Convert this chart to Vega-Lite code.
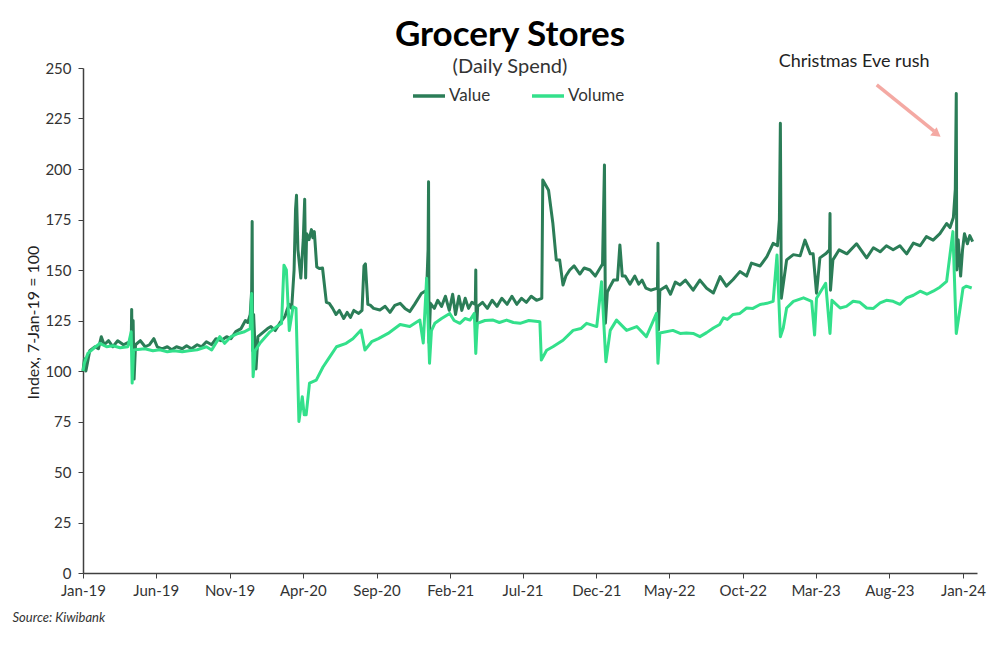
{
  "$schema": "https://vega.github.io/schema/vega-lite/v6.json",
  "width": 894,
  "height": 505,
  "autosize": {"type": "none"},
  "padding": {"left": 83, "top": 68, "right": 23, "bottom": 91},
  "background": "white",
  "config": {"view": {"stroke": null}, "font": "Lato"},
  "title": {
    "text": "Grocery Stores",
    "subtitle": "(Daily Spend)",
    "font": "Lato",
    "fontSize": 35,
    "fontWeight": "bold",
    "color": "#000000",
    "subtitleFont": "Lato",
    "subtitleFontSize": 20,
    "subtitleColor": "#333333",
    "subtitlePadding": 4,
    "anchor": "middle",
    "dx": -20,
    "offset": -24
  },
  "datasets": {
    "series": [
      {"d":"2019-01-07","s":"Value","v":100},{"d":"2019-01-10","s":"Value","v":106},{"d":"2019-01-13","s":"Value","v":100},{"d":"2019-01-21","s":"Value","v":110},{"d":"2019-02-01","s":"Value","v":112},{"d":"2019-02-08","s":"Value","v":111},{"d":"2019-02-14","s":"Value","v":117},{"d":"2019-02-20","s":"Value","v":113},{"d":"2019-03-01","s":"Value","v":115},{"d":"2019-03-10","s":"Value","v":112},{"d":"2019-03-20","s":"Value","v":115},{"d":"2019-04-01","s":"Value","v":113},{"d":"2019-04-10","s":"Value","v":114},{"d":"2019-04-17","s":"Value","v":113},{"d":"2019-04-18","s":"Value","v":130.5},{"d":"2019-04-19","s":"Value","v":112},{"d":"2019-04-21","s":"Value","v":125},{"d":"2019-04-23","s":"Value","v":96},{"d":"2019-04-26","s":"Value","v":113},{"d":"2019-05-06","s":"Value","v":115},{"d":"2019-05-16","s":"Value","v":112},{"d":"2019-05-25","s":"Value","v":113},{"d":"2019-06-03","s":"Value","v":116},{"d":"2019-06-10","s":"Value","v":112},{"d":"2019-06-20","s":"Value","v":111},{"d":"2019-07-01","s":"Value","v":112},{"d":"2019-07-10","s":"Value","v":110.5},{"d":"2019-07-20","s":"Value","v":112},{"d":"2019-08-01","s":"Value","v":111},{"d":"2019-08-10","s":"Value","v":112.5},{"d":"2019-08-20","s":"Value","v":111},{"d":"2019-09-01","s":"Value","v":113},{"d":"2019-09-10","s":"Value","v":112},{"d":"2019-09-20","s":"Value","v":114.5},{"d":"2019-10-01","s":"Value","v":113},{"d":"2019-10-10","s":"Value","v":116},{"d":"2019-10-20","s":"Value","v":115},{"d":"2019-11-01","s":"Value","v":117},{"d":"2019-11-10","s":"Value","v":116},{"d":"2019-11-20","s":"Value","v":119.5},{"d":"2019-12-01","s":"Value","v":121},{"d":"2019-12-10","s":"Value","v":125},{"d":"2019-12-15","s":"Value","v":124},{"d":"2019-12-20","s":"Value","v":128},{"d":"2019-12-23","s":"Value","v":140},{"d":"2019-12-24","s":"Value","v":174},{"d":"2019-12-25","s":"Value","v":110},{"d":"2019-12-27","s":"Value","v":128},{"d":"2020-01-01","s":"Value","v":101},{"d":"2020-01-05","s":"Value","v":117},{"d":"2020-01-15","s":"Value","v":119},{"d":"2020-01-25","s":"Value","v":121},{"d":"2020-02-01","s":"Value","v":122},{"d":"2020-02-10","s":"Value","v":120},{"d":"2020-02-20","s":"Value","v":124},{"d":"2020-03-01","s":"Value","v":127},{"d":"2020-03-05","s":"Value","v":130},{"d":"2020-03-10","s":"Value","v":133},{"d":"2020-03-15","s":"Value","v":131},{"d":"2020-03-20","s":"Value","v":150},{"d":"2020-03-23","s":"Value","v":180},{"d":"2020-03-25","s":"Value","v":187},{"d":"2020-03-28","s":"Value","v":160},{"d":"2020-04-03","s":"Value","v":146},{"d":"2020-04-08","s":"Value","v":165},{"d":"2020-04-11","s":"Value","v":185},{"d":"2020-04-13","s":"Value","v":146},{"d":"2020-04-15","s":"Value","v":168},{"d":"2020-04-20","s":"Value","v":165},{"d":"2020-04-25","s":"Value","v":170},{"d":"2020-04-28","s":"Value","v":166},{"d":"2020-05-01","s":"Value","v":169},{"d":"2020-05-06","s":"Value","v":151.5},{"d":"2020-05-12","s":"Value","v":150.7},{"d":"2020-05-18","s":"Value","v":151},{"d":"2020-05-26","s":"Value","v":134},{"d":"2020-06-01","s":"Value","v":133.5},{"d":"2020-06-08","s":"Value","v":131},{"d":"2020-06-15","s":"Value","v":128},{"d":"2020-06-22","s":"Value","v":130},{"d":"2020-07-01","s":"Value","v":126},{"d":"2020-07-08","s":"Value","v":129},{"d":"2020-07-15","s":"Value","v":126.5},{"d":"2020-07-22","s":"Value","v":130},{"d":"2020-08-01","s":"Value","v":128.5},{"d":"2020-08-08","s":"Value","v":130},{"d":"2020-08-12","s":"Value","v":152},{"d":"2020-08-15","s":"Value","v":153},{"d":"2020-08-20","s":"Value","v":133},{"d":"2020-08-25","s":"Value","v":132.6},{"d":"2020-09-01","s":"Value","v":131},{"d":"2020-09-14","s":"Value","v":130.2},{"d":"2020-09-25","s":"Value","v":132},{"d":"2020-10-05","s":"Value","v":129},{"d":"2020-10-15","s":"Value","v":132.5},{"d":"2020-10-26","s":"Value","v":133.5},{"d":"2020-11-05","s":"Value","v":131},{"d":"2020-11-15","s":"Value","v":129.4},{"d":"2020-11-25","s":"Value","v":133},{"d":"2020-12-09","s":"Value","v":138.4},{"d":"2020-12-20","s":"Value","v":140},{"d":"2020-12-23","s":"Value","v":160},{"d":"2020-12-24","s":"Value","v":193.7},{"d":"2020-12-25","s":"Value","v":114},{"d":"2020-12-28","s":"Value","v":133.5},{"d":"2021-01-05","s":"Value","v":131},{"d":"2021-01-12","s":"Value","v":135},{"d":"2021-01-20","s":"Value","v":132},{"d":"2021-01-28","s":"Value","v":137},{"d":"2021-02-05","s":"Value","v":130},{"d":"2021-02-12","s":"Value","v":138},{"d":"2021-02-18","s":"Value","v":128},{"d":"2021-02-25","s":"Value","v":137},{"d":"2021-03-03","s":"Value","v":130},{"d":"2021-03-10","s":"Value","v":136},{"d":"2021-03-17","s":"Value","v":131},{"d":"2021-03-24","s":"Value","v":134},{"d":"2021-03-31","s":"Value","v":133},{"d":"2021-04-01","s":"Value","v":150},{"d":"2021-04-02","s":"Value","v":118},{"d":"2021-04-05","s":"Value","v":132},{"d":"2021-04-15","s":"Value","v":134},{"d":"2021-04-25","s":"Value","v":131},{"d":"2021-05-05","s":"Value","v":135},{"d":"2021-05-15","s":"Value","v":132},{"d":"2021-05-25","s":"Value","v":136},{"d":"2021-06-05","s":"Value","v":133},{"d":"2021-06-15","s":"Value","v":137},{"d":"2021-06-25","s":"Value","v":133},{"d":"2021-07-05","s":"Value","v":136},{"d":"2021-07-15","s":"Value","v":134},{"d":"2021-07-25","s":"Value","v":137},{"d":"2021-08-05","s":"Value","v":135},{"d":"2021-08-16","s":"Value","v":136},{"d":"2021-08-18","s":"Value","v":194.5},{"d":"2021-08-30","s":"Value","v":189.5},{"d":"2021-09-08","s":"Value","v":173},{"d":"2021-09-15","s":"Value","v":155},{"d":"2021-09-22","s":"Value","v":155},{"d":"2021-09-29","s":"Value","v":142.6},{"d":"2021-10-05","s":"Value","v":147},{"d":"2021-10-13","s":"Value","v":150},{"d":"2021-10-22","s":"Value","v":152},{"d":"2021-11-03","s":"Value","v":148},{"d":"2021-11-12","s":"Value","v":151},{"d":"2021-11-24","s":"Value","v":150},{"d":"2021-12-05","s":"Value","v":147},{"d":"2021-12-15","s":"Value","v":151},{"d":"2021-12-20","s":"Value","v":153},{"d":"2021-12-24","s":"Value","v":202},{"d":"2021-12-26","s":"Value","v":123.7},{"d":"2021-12-30","s":"Value","v":139},{"d":"2022-01-05","s":"Value","v":142},{"d":"2022-01-12","s":"Value","v":145},{"d":"2022-01-20","s":"Value","v":145},{"d":"2022-01-25","s":"Value","v":162.4},{"d":"2022-01-30","s":"Value","v":147},{"d":"2022-02-05","s":"Value","v":147},{"d":"2022-02-15","s":"Value","v":143},{"d":"2022-02-25","s":"Value","v":147},{"d":"2022-03-05","s":"Value","v":143},{"d":"2022-03-12","s":"Value","v":145},{"d":"2022-03-20","s":"Value","v":141},{"d":"2022-03-30","s":"Value","v":140},{"d":"2022-04-13","s":"Value","v":141},{"d":"2022-04-14","s":"Value","v":163.2},{"d":"2022-04-15","s":"Value","v":120.3},{"d":"2022-04-18","s":"Value","v":140},{"d":"2022-05-01","s":"Value","v":142},{"d":"2022-05-10","s":"Value","v":138},{"d":"2022-05-20","s":"Value","v":144},{"d":"2022-05-30","s":"Value","v":142.6},{"d":"2022-06-10","s":"Value","v":145},{"d":"2022-06-26","s":"Value","v":140},{"d":"2022-07-10","s":"Value","v":145},{"d":"2022-07-24","s":"Value","v":141},{"d":"2022-08-07","s":"Value","v":138.6},{"d":"2022-08-21","s":"Value","v":146.7},{"d":"2022-09-03","s":"Value","v":142},{"d":"2022-09-17","s":"Value","v":145.3},{"d":"2022-10-01","s":"Value","v":149.2},{"d":"2022-10-15","s":"Value","v":147},{"d":"2022-10-25","s":"Value","v":153.4},{"d":"2022-11-12","s":"Value","v":152},{"d":"2022-11-26","s":"Value","v":156.6},{"d":"2022-12-09","s":"Value","v":163.2},{"d":"2022-12-18","s":"Value","v":162},{"d":"2022-12-22","s":"Value","v":175},{"d":"2022-12-24","s":"Value","v":222.6},{"d":"2022-12-26","s":"Value","v":136},{"d":"2023-01-06","s":"Value","v":155},{"d":"2023-01-20","s":"Value","v":157.6},{"d":"2023-02-03","s":"Value","v":157},{"d":"2023-02-13","s":"Value","v":164.8},{"d":"2023-02-24","s":"Value","v":158},{"d":"2023-03-02","s":"Value","v":158},{"d":"2023-03-09","s":"Value","v":138.5},{"d":"2023-03-16","s":"Value","v":156},{"d":"2023-03-28","s":"Value","v":158},{"d":"2023-04-05","s":"Value","v":160},{"d":"2023-04-06","s":"Value","v":178},{"d":"2023-04-07","s":"Value","v":140},{"d":"2023-04-12","s":"Value","v":155},{"d":"2023-04-25","s":"Value","v":160},{"d":"2023-05-11","s":"Value","v":158},{"d":"2023-05-31","s":"Value","v":163},{"d":"2023-06-21","s":"Value","v":156},{"d":"2023-07-05","s":"Value","v":161},{"d":"2023-07-19","s":"Value","v":159},{"d":"2023-08-01","s":"Value","v":162},{"d":"2023-08-15","s":"Value","v":160},{"d":"2023-08-29","s":"Value","v":162},{"d":"2023-09-12","s":"Value","v":158},{"d":"2023-09-26","s":"Value","v":163.3},{"d":"2023-10-10","s":"Value","v":162},{"d":"2023-10-23","s":"Value","v":166.5},{"d":"2023-11-06","s":"Value","v":164.8},{"d":"2023-11-20","s":"Value","v":168},{"d":"2023-12-04","s":"Value","v":173},{"d":"2023-12-11","s":"Value","v":171},{"d":"2023-12-18","s":"Value","v":176},{"d":"2023-12-22","s":"Value","v":190},{"d":"2023-12-24","s":"Value","v":237.4},{"d":"2023-12-25","s":"Value","v":150},{"d":"2023-12-28","s":"Value","v":165},{"d":"2024-01-02","s":"Value","v":147},{"d":"2024-01-06","s":"Value","v":160},{"d":"2024-01-10","s":"Value","v":168},{"d":"2024-01-16","s":"Value","v":163},{"d":"2024-01-21","s":"Value","v":167},{"d":"2024-01-27","s":"Value","v":164},
      {"d":"2019-01-07","s":"Volume","v":100},{"d":"2019-01-10","s":"Volume","v":104},{"d":"2019-01-17","s":"Volume","v":108.7},{"d":"2019-01-28","s":"Volume","v":111},{"d":"2019-02-11","s":"Volume","v":113.7},{"d":"2019-02-25","s":"Volume","v":112},{"d":"2019-03-10","s":"Volume","v":112.5},{"d":"2019-03-25","s":"Volume","v":111.5},{"d":"2019-04-10","s":"Volume","v":112},{"d":"2019-04-17","s":"Volume","v":119.4},{"d":"2019-04-19","s":"Volume","v":94},{"d":"2019-04-22","s":"Volume","v":110.4},{"d":"2019-05-01","s":"Volume","v":110.7},{"d":"2019-05-15","s":"Volume","v":111},{"d":"2019-06-01","s":"Volume","v":110},{"d":"2019-06-15","s":"Volume","v":110.5},{"d":"2019-07-01","s":"Volume","v":109.5},{"d":"2019-07-15","s":"Volume","v":110},{"d":"2019-08-01","s":"Volume","v":109.5},{"d":"2019-08-15","s":"Volume","v":110},{"d":"2019-09-01","s":"Volume","v":110.5},{"d":"2019-09-20","s":"Volume","v":112},{"d":"2019-10-01","s":"Volume","v":110.4},{"d":"2019-10-18","s":"Volume","v":117},{"d":"2019-10-28","s":"Volume","v":113.7},{"d":"2019-11-10","s":"Volume","v":117},{"d":"2019-11-25","s":"Volume","v":118.6},{"d":"2019-12-08","s":"Volume","v":119.4},{"d":"2019-12-20","s":"Volume","v":121},{"d":"2019-12-23","s":"Volume","v":138.4},{"d":"2019-12-26","s":"Volume","v":97.2},{"d":"2019-12-30","s":"Volume","v":110},{"d":"2020-01-09","s":"Volume","v":113.7},{"d":"2020-01-30","s":"Volume","v":119.4},{"d":"2020-02-13","s":"Volume","v":122},{"d":"2020-02-23","s":"Volume","v":123.5},{"d":"2020-02-28","s":"Volume","v":152.4},{"d":"2020-03-04","s":"Volume","v":150},{"d":"2020-03-10","s":"Volume","v":120},{"d":"2020-03-18","s":"Volume","v":131.8},{"d":"2020-03-24","s":"Volume","v":131},{"d":"2020-03-30","s":"Volume","v":75},{"d":"2020-04-06","s":"Volume","v":87.3},{"d":"2020-04-10","s":"Volume","v":78.3},{"d":"2020-04-14","s":"Volume","v":78.3},{"d":"2020-04-21","s":"Volume","v":94},{"d":"2020-05-05","s":"Volume","v":95.5},{"d":"2020-05-19","s":"Volume","v":102},{"d":"2020-06-02","s":"Volume","v":107},{"d":"2020-06-16","s":"Volume","v":112},{"d":"2020-07-06","s":"Volume","v":113.7},{"d":"2020-07-20","s":"Volume","v":116},{"d":"2020-08-06","s":"Volume","v":120.3},{"d":"2020-08-14","s":"Volume","v":110.4},{"d":"2020-08-28","s":"Volume","v":114.5},{"d":"2020-09-11","s":"Volume","v":116},{"d":"2020-10-01","s":"Volume","v":118.6},{"d":"2020-10-26","s":"Volume","v":123},{"d":"2020-11-15","s":"Volume","v":122},{"d":"2020-12-06","s":"Volume","v":125.2},{"d":"2020-12-13","s":"Volume","v":113.9},{"d":"2020-12-20","s":"Volume","v":145.9},{"d":"2020-12-26","s":"Volume","v":103.8},{"d":"2020-12-30","s":"Volume","v":120},{"d":"2021-01-06","s":"Volume","v":123.6},{"d":"2021-01-20","s":"Volume","v":126},{"d":"2021-02-06","s":"Volume","v":128.5},{"d":"2021-02-15","s":"Volume","v":125},{"d":"2021-02-27","s":"Volume","v":123.6},{"d":"2021-03-10","s":"Volume","v":126},{"d":"2021-03-20","s":"Volume","v":125.2},{"d":"2021-03-29","s":"Volume","v":128.5},{"d":"2021-04-01","s":"Volume","v":108.7},{"d":"2021-04-04","s":"Volume","v":123.6},{"d":"2021-04-20","s":"Volume","v":125},{"d":"2021-05-07","s":"Volume","v":125.2},{"d":"2021-05-20","s":"Volume","v":124},{"d":"2021-06-04","s":"Volume","v":125.2},{"d":"2021-06-18","s":"Volume","v":124},{"d":"2021-07-02","s":"Volume","v":123.6},{"d":"2021-07-20","s":"Volume","v":125},{"d":"2021-08-12","s":"Volume","v":124.4},{"d":"2021-08-15","s":"Volume","v":105.4},{"d":"2021-08-26","s":"Volume","v":110.3},{"d":"2021-09-08","s":"Volume","v":112},{"d":"2021-09-29","s":"Volume","v":115.2},{"d":"2021-10-20","s":"Volume","v":120.1},{"d":"2021-11-05","s":"Volume","v":121},{"d":"2021-11-17","s":"Volume","v":123.6},{"d":"2021-12-08","s":"Volume","v":122},{"d":"2021-12-18","s":"Volume","v":144.2},{"d":"2021-12-27","s":"Volume","v":104.6},{"d":"2022-01-05","s":"Volume","v":120.1},{"d":"2022-01-18","s":"Volume","v":125.2},{"d":"2022-02-08","s":"Volume","v":120.1},{"d":"2022-03-01","s":"Volume","v":122},{"d":"2022-03-21","s":"Volume","v":117},{"d":"2022-04-11","s":"Volume","v":128.5},{"d":"2022-04-14","s":"Volume","v":103.8},{"d":"2022-04-18","s":"Volume","v":118.8},{"d":"2022-05-15","s":"Volume","v":120.1},{"d":"2022-05-30","s":"Volume","v":118.6},{"d":"2022-06-12","s":"Volume","v":118.8},{"d":"2022-06-26","s":"Volume","v":118.6},{"d":"2022-07-10","s":"Volume","v":117},{"d":"2022-07-24","s":"Volume","v":119},{"d":"2022-08-07","s":"Volume","v":121.3},{"d":"2022-08-20","s":"Volume","v":123},{"d":"2022-08-28","s":"Volume","v":126.3},{"d":"2022-09-05","s":"Volume","v":125.5},{"d":"2022-09-17","s":"Volume","v":128},{"d":"2022-10-01","s":"Volume","v":128.5},{"d":"2022-10-15","s":"Volume","v":131.2},{"d":"2022-10-28","s":"Volume","v":131},{"d":"2022-11-12","s":"Volume","v":132.9},{"d":"2022-11-26","s":"Volume","v":133.5},{"d":"2022-12-09","s":"Volume","v":134.5},{"d":"2022-12-17","s":"Volume","v":157.4},{"d":"2022-12-24","s":"Volume","v":117},{"d":"2022-12-30","s":"Volume","v":121.3},{"d":"2023-01-06","s":"Volume","v":131.2},{"d":"2023-01-20","s":"Volume","v":134.5},{"d":"2023-02-10","s":"Volume","v":136.2},{"d":"2023-02-27","s":"Volume","v":134.5},{"d":"2023-03-05","s":"Volume","v":117.8},{"d":"2023-03-09","s":"Volume","v":136},{"d":"2023-03-28","s":"Volume","v":143.4},{"d":"2023-04-06","s":"Volume","v":118.6},{"d":"2023-04-10","s":"Volume","v":135},{"d":"2023-04-27","s":"Volume","v":131.2},{"d":"2023-05-10","s":"Volume","v":132},{"d":"2023-05-24","s":"Volume","v":134.5},{"d":"2023-06-07","s":"Volume","v":134},{"d":"2023-06-21","s":"Volume","v":131.2},{"d":"2023-07-05","s":"Volume","v":131},{"d":"2023-07-19","s":"Volume","v":133.7},{"d":"2023-08-01","s":"Volume","v":135},{"d":"2023-08-15","s":"Volume","v":134.5},{"d":"2023-08-29","s":"Volume","v":133},{"d":"2023-09-12","s":"Volume","v":136.2},{"d":"2023-09-26","s":"Volume","v":137.5},{"d":"2023-10-10","s":"Volume","v":139.5},{"d":"2023-10-24","s":"Volume","v":138},{"d":"2023-11-06","s":"Volume","v":139.5},{"d":"2023-11-20","s":"Volume","v":141.5},{"d":"2023-12-04","s":"Volume","v":144.4},{"d":"2023-12-17","s":"Volume","v":169},{"d":"2023-12-24","s":"Volume","v":118.6},{"d":"2024-01-01","s":"Volume","v":131.2},{"d":"2024-01-07","s":"Volume","v":141.1},{"d":"2024-01-14","s":"Volume","v":142},{"d":"2024-01-25","s":"Volume","v":141.1}
    ],
    "note": [{"d":"2023-05-26","v":252.9,"t":"Christmas Eve rush"}],
    "arrow": [{"d":"2023-07-12","v":241.6,"d2":"2023-11-08","v2":218.8}],
    "head": [{"d":"2023-11-14","v":217.3}]
  },
  "layer": [
    {
      "data": {"name": "series"},
      "mark": {"type": "line", "strokeWidth": 3, "strokeJoin": "round", "interpolate": "linear"},
      "encoding": {
        "x": {
          "field": "d", "type": "temporal",
          "scale": {"type": "utc", "domain": [1546819200000, 1707091200000]},
          "axis": {
            "values": [1546819200000, 1559865600000, 1573084800000, 1586217600000, 1599436800000, 1612656000000, 1625616000000, 1638835200000, 1651881600000, 1665100800000, 1678147200000, 1691366400000, 1704585600000],
            "labelExpr": "utcFormat(datum.value, '%b-%y')",
            "labelFlush": false,
            "grid": false,
            "domainColor": "#404040",
            "domainWidth": 1.5,
            "tickColor": "#404040",
            "tickSize": 5,
            "labelFont": "Lato",
            "labelFontSize": 15,
            "labelColor": "#333333",
            "labelPadding": 5,
            "labelOverlap": false,
            "title": "Source: Kiwibank",
            "titleFont": "Lato",
            "titleFontSize": 13,
            "titleFontStyle": "italic",
            "titleFontWeight": "normal",
            "titleColor": "#333333",
            "titleAnchor": "start",
            "titleAlign": "left",
            "titleBaseline": "middle",
            "titleX": -71,
            "titleY": 44
          }
        },
        "y": {
          "field": "v", "type": "quantitative",
          "scale": {"domain": [0, 250], "nice": false, "zero": true},
          "axis": {
            "values": [0, 25, 50, 75, 100, 125, 150, 175, 200, 225, 250],
            "grid": false,
            "domainColor": "#404040",
            "domainWidth": 1.5,
            "tickColor": "#404040",
            "tickSize": 5,
            "labelFont": "Lato",
            "labelFontSize": 15,
            "labelColor": "#333333",
            "labelPadding": 7,
            "title": "Index, 7-Jan-19 = 100",
            "titleFont": "Lato",
            "titleFontSize": 16,
            "titleFontWeight": "normal",
            "titleColor": "#222222",
            "titleAngle": -90,
            "titleAlign": "center",
            "titleBaseline": "middle",
            "titleX": -50,
            "titleY": 254
          }
        },
        "color": {
          "field": "s", "type": "nominal",
          "scale": {"domain": ["Value", "Volume"], "range": ["#2B7D57", "#33E08B"]},
          "legend": {
            "title": null,
            "orient": "none",
            "legendX": 328,
            "legendY": 10,
            "direction": "horizontal",
            "symbolType": "stroke",
            "symbolStrokeWidth": 3.5,
            "symbolSize": 1024,
            "labelFont": "Lato",
            "labelFontSize": 17,
            "labelColor": "#333333",
            "labelOffset": 2,
            "columnPadding": 34
          }
        }
      }
    },
    {
      "data": {"name": "arrow"},
      "mark": {"type": "rule", "color": "#F4A9A3", "strokeWidth": 3.5, "clip": false},
      "encoding": {
        "x": {"field": "d", "type": "temporal"},
        "y": {"field": "v", "type": "quantitative"},
        "x2": {"field": "d2"},
        "y2": {"field": "v2"}
      }
    },
    {
      "data": {"name": "head"},
      "mark": {"type": "point", "shape": "triangle-right", "filled": true, "color": "#F4A9A3", "size": 110, "angle": 38, "opacity": 1, "clip": false},
      "encoding": {
        "x": {"field": "d", "type": "temporal"},
        "y": {"field": "v", "type": "quantitative"}
      }
    },
    {
      "data": {"name": "note"},
      "mark": {"type": "text", "font": "Lato", "fontSize": 18, "color": "#222222", "align": "center", "baseline": "middle", "clip": false},
      "encoding": {
        "x": {"field": "d", "type": "temporal"},
        "y": {"field": "v", "type": "quantitative"},
        "text": {"field": "t"}
      }
    }
  ]
}
